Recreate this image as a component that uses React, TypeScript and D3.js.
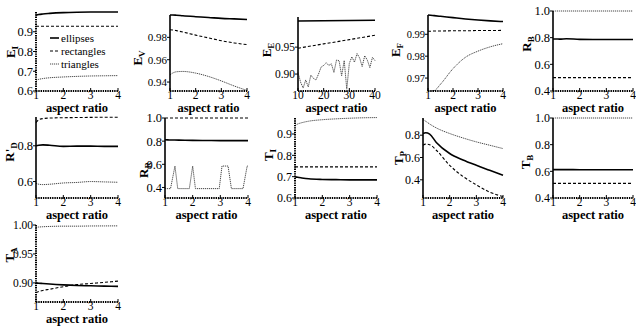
import React from 'react';
import * as d3 from 'd3';

const W = 636;
const H = 326;

// aspect ratio sample points (most panels)
const ar = [1, 1.1, 1.25, 1.5, 2, 2.5, 3, 3.5, 4];
const arTicks = [1, 2, 3, 4];
const eeX = d3.range(10, 41);
const eeXCoarse = [10, 20, 30, 40];
const eeTicks = [10, 20, 30, 40];

// E_I
const eiEllipses = [0.983, 0.987, 0.99, 0.993, 0.997, 0.999, 1.0, 1.0, 1.0];
const eiRects = [0.928, 0.928, 0.928, 0.928, 0.928, 0.928, 0.928, 0.928, 0.928];
const eiTriangles = [0.655, 0.659, 0.663, 0.667, 0.671, 0.674, 0.676, 0.677, 0.678];
const eiTicks = [0.6, 0.7, 0.8, 0.9];

// E_V
const evEllipses = [1.0, 1.0, 0.9998, 0.9993, 0.9985, 0.9978, 0.997, 0.9965, 0.996];
const evRects = [0.9868, 0.9866, 0.986, 0.9848, 0.982, 0.9795, 0.977, 0.975, 0.9735];
const evTriangles = [0.9465, 0.948, 0.9492, 0.9495, 0.948, 0.945, 0.941, 0.9365, 0.9325];
const evTicks = [0.94, 0.96, 0.98];

// E_E (x = 10..40)
const eeEllipses = [0.9985, 0.999, 0.9995, 1.0];
const eeRects = [0.948, 0.956, 0.964, 0.972];
const eeTriangles = [
  0.903, 0.885, 0.874, 0.889, 0.876, 0.898, 0.892, 0.889, 0.9, 0.913, 0.916,
  0.921, 0.916, 0.919, 0.903, 0.926, 0.925, 0.897, 0.925, 0.872, 0.92,
  0.932, 0.922, 0.938, 0.93, 0.914, 0.934, 0.926, 0.912, 0.931, 0.925,
];
const eeTicksY = [0.9, 0.95];

// E_F
const efEllipses = [0.9988, 0.9987, 0.9985, 0.9982, 0.9976, 0.997, 0.9965, 0.9961, 0.9958];
const efRects = [0.9914, 0.9914, 0.9915, 0.9915, 0.9916, 0.9916, 0.9917, 0.9917, 0.9918];
const efTriangles = [0.9641, 0.9641, 0.9643, 0.9672, 0.9743, 0.9795, 0.9823, 0.9843, 0.9857];
const efTicks = [0.97, 0.98, 0.99];

// R_B
const rbEllipses = [0.79, 0.79, 0.789, 0.792, 0.787, 0.786, 0.786, 0.786, 0.786];
const rbRects = [0.5, 0.5, 0.5, 0.5, 0.5, 0.5, 0.5, 0.5, 0.5];
const rbTriangles = [1.0, 1.0, 1.0, 1.0, 1.0, 1.0, 1.0, 1.0, 1.0];
const unitTicks = [0.4, 0.6, 0.8, 1.0];

// R'_D
const rdEllipses = [0.8, 0.803, 0.805, 0.803, 0.797, 0.798, 0.798, 0.797, 0.797];
const rdRects = [0.93, 0.945, 0.952, 0.955, 0.957, 0.958, 0.959, 0.96, 0.96];
const rdTriangles = [0.59, 0.585, 0.583, 0.585, 0.592, 0.595, 0.6, 0.598, 0.596];
const rdTicks = [0.6, 0.8];

// R_R
const rrEllipses = [0.812, 0.811, 0.81, 0.809, 0.807, 0.806, 0.805, 0.805, 0.805];
const rrRects = [1.0, 1.0, 1.0, 1.0, 1.0, 1.0, 1.0, 1.0, 1.0];
const rrTriX = [1, 1.2, 1.36, 1.46, 1.88, 2.0, 2.1, 2.96, 3.06, 3.28, 3.4, 3.82, 3.97, 4];
const rrTriangles = [0.39, 0.39, 0.585, 0.39, 0.39, 0.585, 0.39, 0.39, 0.585, 0.585, 0.39, 0.39, 0.585, 0.585];

// T_I
const tiEllipses = [0.7, 0.697, 0.694, 0.69, 0.687, 0.686, 0.685, 0.685, 0.685];
const tiRects = [0.746, 0.746, 0.746, 0.746, 0.746, 0.746, 0.746, 0.746, 0.746];
const tiTriangles = [0.94, 0.947, 0.953, 0.96, 0.967, 0.971, 0.974, 0.976, 0.977];
const tiTicks = [0.6, 0.7, 0.8, 0.9];

// T_P
const tpEllipses = [0.815, 0.822, 0.81, 0.735, 0.636, 0.578, 0.53, 0.485, 0.44];
const tpRects = [0.71, 0.72, 0.715, 0.665, 0.53, 0.43, 0.355, 0.29, 0.25];
const tpTriangles = [0.94, 0.925, 0.9, 0.865, 0.815, 0.775, 0.74, 0.71, 0.68];
const tpTicks = [0.4, 0.6, 0.8];

// T_B
const tbEllipses = [0.613, 0.613, 0.613, 0.613, 0.612, 0.612, 0.612, 0.612, 0.612];
const tbRects = [0.51, 0.51, 0.51, 0.51, 0.51, 0.51, 0.51, 0.51, 0.51];
const tbTriangles = [1.0, 1.0, 1.0, 1.0, 1.0, 1.0, 1.0, 1.0, 1.0];

// T_A
const taEllipses = [0.9, 0.8995, 0.899, 0.898, 0.8965, 0.8955, 0.895, 0.8945, 0.894];
const taRects = [0.883, 0.885, 0.887, 0.889, 0.8935, 0.897, 0.899, 0.901, 0.903];
const taTriangles = [0.996, 0.9965, 0.997, 0.9975, 0.998, 0.998, 0.9983, 0.9984, 0.9985];
const taTicks = [0.9, 0.95, 1.0];

const legendNames = ['ellipses', 'rectangles', 'triangles'];

const styles = [
  { stroke: '#000', width: 1.6, dash: null },
  { stroke: '#000', width: 1.1, dash: '3 2' },
  { stroke: '#333', width: 0.9, dash: '1.2 0.8' },
];

// layout: [left, right, top, bottom], y-label position
const panels = [
  { name: 'E', sub: 'I', box: [36, 118, 12, 91], y: [0.6, 1.0], yt: eiTicks, f: '.1f', fs: 12.5, lx: 10, ly: 52, x: [1, 4], xt: arTicks,
    s: [[ar, eiEllipses], [ar, eiRects], [ar, eiTriangles]], legend: true, dotY: true },
  { name: 'E', sub: 'V', box: [170, 247, 15, 91], y: [0.932, 1.0], yt: evTicks, f: '.2f', fs: 11, lx: 137, ly: 58, x: [1, 4], xt: arTicks,
    s: [[ar, evEllipses], [ar, evRects], [ar, evTriangles]] },
  { name: 'E', sub: 'E', box: [298, 375, 17, 91], y: [0.8685, 1.006], yt: eeTicksY, f: '.2f', fs: 11.5, lx: 266, ly: 50, x: [10, 40], xt: eeTicks,
    s: [[eeXCoarse, eeEllipses], [eeXCoarse, eeRects], [eeX, eeTriangles]], linear: true },
  { name: 'E', sub: 'F', box: [428, 503, 15, 91], y: [0.9641, 0.9988], yt: efTicks, f: '.2f', fs: 10.5, lx: 395, ly: 50, x: [1, 4], xt: arTicks,
    s: [[ar, efEllipses], [ar, efRects], [ar, efTriangles]] },
  { name: 'R', sub: 'B', box: [553, 633, 11, 91], y: [0.4, 1.0], yt: unitTicks, f: '.1f', fs: 12.5, lx: 526, ly: 44, x: [1, 4], xt: arTicks,
    s: [[ar, rbEllipses], [ar, rbRects], [ar, rbTriangles]] },
  { name: "R'", sub: 'D', box: [36, 118, 117, 198], y: [0.508, 0.961], yt: rdTicks, f: '.1f', fs: 12.5, lx: 9, ly: 152, x: [1, 4], xt: arTicks,
    s: [[ar, rdEllipses], [ar, rdRects], [ar, rdTriangles]] },
  { name: 'R', sub: 'R', box: [165, 248, 118, 198], y: [0.309, 1.0], yt: unitTicks, f: '.1f', fs: 12.5, lx: 143, ly: 170, x: [1, 4], xt: arTicks,
    s: [[ar, rrEllipses], [ar, rrRects], [rrTriX, rrTriangles]], linearTri: true },
  { name: 'T', sub: 'I', box: [295, 377, 118, 198], y: [0.6, 0.975], yt: tiTicks, f: '.1f', fs: 12, lx: 268, ly: 155, x: [1, 4], xt: arTicks,
    s: [[ar, tiEllipses], [ar, tiRects], [ar, tiTriangles]], dotY: true },
  { name: 'T', sub: 'P', box: [423, 503, 118, 198], y: [0.237, 0.954], yt: tpTicks, f: '.1f', fs: 12, lx: 398, ly: 158, x: [1, 4], xt: arTicks,
    s: [[ar, tpEllipses], [ar, tpRects], [ar, tpTriangles]] },
  { name: 'T', sub: 'B', box: [553, 633, 118, 198], y: [0.4, 1.0], yt: unitTicks, f: '.1f', fs: 12, lx: 525, ly: 162, x: [1, 4], xt: arTicks,
    s: [[ar, tbEllipses], [ar, tbRects], [ar, tbTriangles]] },
  { name: 'T', sub: 'A', box: [36, 118, 225, 302], y: [0.867, 1.0], yt: taTicks, f: '.2f', fs: 11.5, lx: 9, ly: 255, x: [1, 4], xt: arTicks,
    s: [[ar, taEllipses], [ar, taRects], [ar, taTriangles]], dotY: true },
];

const FONT = "'Liberation Serif', 'DejaVu Serif', serif";

function Panel({ p }: { p: any }) {
  const [l, r, t, b] = p.box;
  const x = d3.scaleLinear().domain(p.x).range([l, r]);
  const y = d3.scaleLinear().domain(p.y).range([b, t]);
  const fmt = d3.format(p.f);
  return (
    <g>
      {p.s.map(([xs, ys]: [number[], number[]], i: number) => {
        const straight = p.linear || (p.linearTri && i === 2);
        const line = d3
          .line<number>()
          .x((_, k) => x(xs[k]))
          .y((d) => y(d))
          .curve(straight ? d3.curveLinear : d3.curveMonotoneX);
        const st = styles[i];
        return (
          <path key={i} d={line(ys) || ''} fill="none" stroke={st.stroke}
            strokeWidth={st.width} strokeDasharray={st.dash || undefined} />
        );
      })}
      {/* y axis */}
      <line x1={l} x2={l} y1={t} y2={b} stroke="#000" strokeWidth={p.dotY ? 2 : 1.6}
        strokeDasharray={p.dotY ? '1.4 0.9' : undefined} />
      {p.yt.map((v: number) => (
        <g key={v}>
          <line x1={l - 3} x2={l} y1={y(v)} y2={y(v)} stroke="#000" strokeWidth={1} />
          <text x={l - 3} y={y(v)} dy="0.35em" textAnchor="end" fontSize={p.fs}>
            {fmt(v)}
          </text>
        </g>
      ))}
      {/* x axis */}
      <line x1={l} x2={r} y1={b} y2={b} stroke="#000" strokeWidth={2.2} strokeDasharray="1.4 0.9" />
      {p.xt.map((v: number) => (
        <g key={v}>
          <line x1={x(v)} x2={x(v)} y1={b} y2={b - 3} stroke="#000" strokeWidth={1} />
          <text x={x(v)} y={b + 4} dy="0.35em" textAnchor="middle" fontSize={11.5}>
            {v}
          </text>
        </g>
      ))}
      <text x={(l + r) / 2} y={b + 17} dy="0.35em" textAnchor="middle" fontSize={12.5} fontWeight="bold">
        aspect ratio
      </text>
      <text transform={`translate(${p.lx},${p.ly}) rotate(-90)`} textAnchor="middle" dy="0.35em"
        fontSize={13} fontWeight="bold">
        {p.name}
        <tspan fontSize={9} dy="3">{p.sub}</tspan>
      </text>
      {p.legend &&
        legendNames.map((n, i) => (
          <g key={n}>
            <line x1={50} x2={59} y1={38 + i * 13} y2={38 + i * 13} stroke={styles[i].stroke}
              strokeWidth={styles[i].width} strokeDasharray={styles[i].dash || undefined} />
            <text x={61} y={38 + i * 13} dy="0.35em" fontSize={11}>{n}</text>
          </g>
        ))}
    </g>
  );
}

export default function App() {
  return (
    <svg width={W} height={H} style={{ position: 'absolute', left: 0, top: 0, background: '#fff', fontFamily: FONT }}>
      {panels.map((p, i) => (
        <Panel key={i} p={p} />
      ))}
    </svg>
  );
}
